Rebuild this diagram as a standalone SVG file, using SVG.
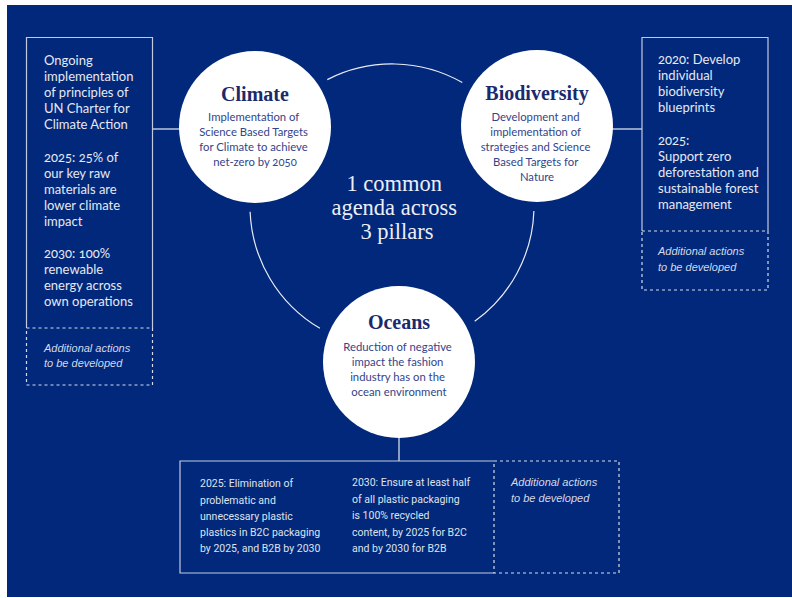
<svg xmlns="http://www.w3.org/2000/svg" width="792" height="598" viewBox="0 0 792 598">
<style>
.bg{fill:#01287a}
.solid{fill:none;stroke:#c3c9dd;stroke-width:1.2}
.dash{fill:none;stroke:#d6dbea;stroke-width:1.2;stroke-dasharray:3 3}
.con{fill:none;stroke:#e9ecf5;stroke-width:1.2}
.circ{fill:#ffffff}
.box{font-family:Lato,"Open Sans","Liberation Sans",sans-serif;font-size:13px;fill:#e6e9f3;font-feature-settings:"onum"}
.ital{font-family:"Liberation Sans",Arial,sans-serif;font-style:italic;font-size:11px;fill:#d3d9ea}
.bot{font-family:Roboto,"Liberation Sans",sans-serif;font-size:10.5px;fill:#dfe3ee}
.head{font-family:"Liberation Serif","Times New Roman",serif;font-weight:bold;font-size:20px;fill:#1b2a6c;text-anchor:middle}
.body{font-family:Lato,"Open Sans","Liberation Sans",sans-serif;font-size:11.3px;fill:#33448a;text-anchor:middle;font-feature-settings:"onum"}
.center{font-family:"Liberation Serif","Times New Roman",serif;font-size:22.5px;fill:#eceef5;text-anchor:middle}
</style>
<rect class="bg" x="7" y="5" width="785" height="592"/>

<g id="connectors">
<path class="con" d="M327.3 79.6 A142 142 0 0 1 462.3 82.5"/>
<path class="con" d="M533.9 210.9 A142 142 0 0 1 474.7 321.3"/>
<path class="con" d="M319.9 328.3 A142 142 0 0 1 250.1 211.8"/>
<line class="con" x1="152.5" y1="129" x2="180" y2="129"/>
<line class="con" x1="612" y1="129" x2="642" y2="129"/>
<line class="con" x1="399" y1="437" x2="399" y2="461"/>
</g>

<g id="left-box">
<path class="solid" d="M26.5 328 V37.5 H152.5 V328"/>
<rect class="dash" x="26.5" y="328" width="126" height="57"/>
<text class="box" x="44">
<tspan x="44" y="65">Ongoing</tspan>
<tspan x="44" y="81">implementation</tspan>
<tspan x="44" y="97">of principles of</tspan>
<tspan x="44" y="113">UN Charter for</tspan>
<tspan x="44" y="129">Climate Action</tspan>
<tspan x="44" y="162">2025: 25% of</tspan>
<tspan x="44" y="178">our key raw</tspan>
<tspan x="44" y="194">materials are</tspan>
<tspan x="44" y="210">lower climate</tspan>
<tspan x="44" y="226">impact</tspan>
<tspan x="44" y="258">2030: 100%</tspan>
<tspan x="44" y="274">renewable</tspan>
<tspan x="44" y="290">energy across</tspan>
<tspan x="44" y="306">own operations</tspan>
</text>
<text class="ital"><tspan x="44" y="352">Additional actions</tspan><tspan x="44" y="367">to be developed</tspan></text>
</g>

<g id="right-box">
<path class="solid" d="M642 231 V37.5 H768 V231"/>
<rect class="dash" x="642" y="231" width="126" height="59"/>
<text class="box">
<tspan x="658" y="64">2020: Develop</tspan>
<tspan x="658" y="80">individual</tspan>
<tspan x="658" y="96">biodiversity</tspan>
<tspan x="658" y="112">blueprints</tspan>
<tspan x="658" y="145">2025:</tspan>
<tspan x="658" y="161">Support zero</tspan>
<tspan x="658" y="177">deforestation and</tspan>
<tspan x="658" y="193">sustainable forest</tspan>
<tspan x="658" y="209">management</tspan>
</text>
<text class="ital"><tspan x="658" y="255">Additional actions</tspan><tspan x="658" y="271">to be developed</tspan></text>
</g>

<g id="bottom-box">
<path class="solid" d="M494 461 H180 V573 H494"/>
<rect class="dash" x="494" y="461" width="125" height="112"/>
<text class="bot">
<tspan x="200" y="487">2025: Elimination of</tspan>
<tspan x="200" y="503.5">problematic and</tspan>
<tspan x="200" y="520">unnecessary plastic</tspan>
<tspan x="200" y="536">plastics in B2C packaging</tspan>
<tspan x="200" y="552">by 2025, and B2B by 2030</tspan>
</text>
<text class="bot">
<tspan x="352" y="486">2030: Ensure at least half</tspan>
<tspan x="352" y="502.5">of all plastic packaging</tspan>
<tspan x="352" y="519">is 100% recycled</tspan>
<tspan x="352" y="535.5">content, by 2025 for B2C</tspan>
<tspan x="352" y="552">and by 2030 for B2B</tspan>
</text>
<text class="ital"><tspan x="511" y="486">Additional actions</tspan><tspan x="511" y="502">to be developed</tspan></text>
</g>

<g id="climate">
<circle class="circ" cx="255" cy="127" r="76"/>
<text class="head" x="255" y="101">Climate</text>
<text class="body">
<tspan x="255" y="121">Implementation of</tspan>
<tspan x="255" y="136">Science Based Targets</tspan>
<tspan x="255" y="151">for Climate to achieve</tspan>
<tspan x="255" y="166">net-zero by 2050</tspan>
</text>
</g>

<g id="biodiversity">
<circle class="circ" cx="537" cy="126" r="76"/>
<text class="head" x="537" y="100">Biodiversity</text>
<text class="body">
<tspan x="537" y="121">Development and</tspan>
<tspan x="537" y="136">implementation of</tspan>
<tspan x="537" y="151">strategies and Science</tspan>
<tspan x="537" y="166">Based Targets for</tspan>
<tspan x="537" y="181">Nature</tspan>
</text>
</g>

<g id="oceans">
<circle class="circ" cx="399" cy="362" r="76"/>
<text class="head" x="399" y="329">Oceans</text>
<text class="body">
<tspan x="399" y="351">Reduction of negative</tspan>
<tspan x="399" y="366">impact the fashion</tspan>
<tspan x="399" y="381">industry has on the</tspan>
<tspan x="399" y="396">ocean environment</tspan>
</text>
</g>

<g id="center-label">
<text class="center">
<tspan x="397" y="191">1 common</tspan>
<tspan x="397" y="215">agenda across</tspan>
<tspan x="397" y="239">3 pillars</tspan>
</text>
</g>
</svg>
